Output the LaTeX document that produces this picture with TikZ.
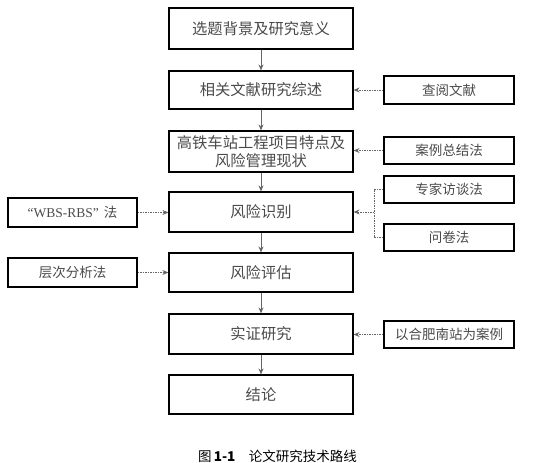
\documentclass[tikz,border=0pt]{standalone}
\usepackage{fontspec}
\setmainfont{Noto Sans CJK SC}
\newfontfamily\latinserif{Liberation Serif}
\usetikzlibrary{arrows.meta}
\definecolor{txt}{HTML}{4A4A4A}
\definecolor{arr}{HTML}{666666}
\begin{document}
\begin{tikzpicture}[x=1pt,y=-1pt,
  mainbox/.style={draw=black,line width=1.2pt,minimum width=184pt,minimum height=40pt,inner sep=0pt,text=txt,font=\fontsize{15.3}{18}\selectfont,align=center},
  sidebox/.style={draw=black,line width=1.2pt,minimum width=130pt,minimum height=28pt,inner sep=0pt,text=txt,font=\fontsize{13.5}{16}\selectfont},
  flow/.style={draw=arr,line width=0.8pt,-{Stealth[length=6pt,width=5pt]}},
  dflow/.style={draw=arr,line width=0.8pt,dash pattern=on 1.5pt off 1pt,-{Stealth[length=6pt,width=5pt]}},
  dline/.style={draw=arr,line width=0.8pt,dash pattern=on 1.5pt off 1pt}]
\useasboundingbox (0,0) rectangle (550,463);
\node[mainbox,minimum height=41pt] (m1) at (261,28.5) {选题背景及研究意义};
\node[mainbox,minimum height=38pt] (m2) at (261,90) {相关文献研究综述};
\node[mainbox,minimum height=41pt] (m3) at (261,151.5) {高铁车站工程项目特点及\\风险管理现状};
\node[mainbox] (m4) at (261,212) {风险识别};
\node[mainbox,minimum height=39pt] (m5) at (261,272.5) {风险评估};
\node[mainbox] (m6) at (261,334) {实证研究};
\node[mainbox,minimum height=39pt] (m7) at (261,394.5) {结论};
\node[sidebox] (r1) at (449,90) {查阅文献};
\node[sidebox,minimum height=27pt] (r2) at (449,150.5) {案例总结法};
\node[sidebox,minimum height=27pt] (r3) at (449,189.5) {专家访谈法};
\node[sidebox,minimum height=27pt] (r4) at (449,237.5) {问卷法};
\node[sidebox,minimum height=27pt] (r5) at (449,334.5) {以合肥南站为案例};
\node[sidebox,minimum width=129pt,minimum height=29pt] (l1) at (72.5,212.5) {{\latinserif “WBS-RBS”\hspace{5pt}}法};
\node[sidebox,minimum width=129pt,minimum height=29pt] (l2) at (72.5,272.5) {层次分析法};
\draw[flow] (m1) -- (m2);
\draw[flow] (m2) -- (m3);
\draw[flow] (m3) -- (m4);
\draw[flow] (m4) -- (m5);
\draw[flow] (m5) -- (m6);
\draw[flow] (m6) -- (m7);
\draw[dflow] (r1.west) -- (m2.east |- r1.west);
\draw[dflow] (r2.west) -- (m3.east |- r2.west);
\draw[dflow] (r5.west) -- (m6.east |- r5.west);
\draw[dflow] (l1.east) -- (m4.west |- l1.east);
\draw[dflow] (l2.east) -- (m5.west |- l2.east);
\coordinate (bj) at (374,212);
\draw[dline] (r3.west) -| (bj) |- (r4.west);
\draw[dflow] (bj) -- (m4.east);
\node[text=black,font=\fontsize{13.5}{15}\selectfont] (cap) at (277.5,456) {图\,\textbf{1-1}\quad 论文研究技术路线};
\end{tikzpicture}
\end{document}
